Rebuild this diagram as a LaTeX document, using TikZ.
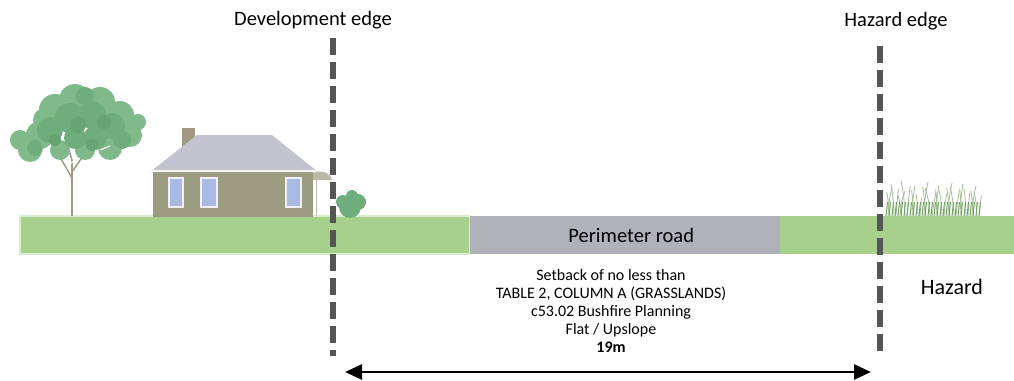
\documentclass[tikz,border=0pt]{standalone}
\usepackage{fontspec}
\setmainfont{Carlito}
\usetikzlibrary{arrows.meta}
\definecolor{lawn}{HTML}{A8D08D}
\definecolor{lawnedge}{HTML}{D6EDCB}
\definecolor{roadgrey}{HTML}{B1B1B9}
\definecolor{wallc}{HTML}{9C9C80}
\definecolor{roofc}{HTML}{C3C3CF}
\definecolor{winc}{HTML}{A9B9E2}
\definecolor{edgec}{HTML}{555555}
\definecolor{leafA}{HTML}{6FAE7C}
\definecolor{leafB}{HTML}{80BA8A}
\definecolor{leafC}{HTML}{66A473}
\definecolor{trunkc}{HTML}{A09A82}
\definecolor{grassA}{HTML}{6FA45E}
\definecolor{grassB}{HTML}{A3BC98}
\tikzset{
  edgeline/.style={draw=edgec, line width=5.5pt, dash pattern=on 17pt off 7pt},
  label/.style={font=\fontsize{20.5}{24}\selectfont, inner sep=0pt},
  note/.style={font=\fontsize{16}{18}\selectfont, align=center, inner sep=0pt},
  dimarrow/.style={draw=black, line width=2.8pt, {Triangle[length=17pt,width=15pt]}-{Triangle[length=17pt,width=15pt]}},
  window/.style={fill=winc, draw=white!80!winc, line width=1.5pt},
  blade/.style={draw=grassB, line width=0.8pt},
}
\begin{document}
\begin{tikzpicture}[x=1pt,y=-1pt]
\useasboundingbox (0,0) rectangle (1014,380);
\fill[white] (0,0) rectangle (1014,380);

% ground strip
\draw[lawnedge, line width=1.5pt, fill=lawn] (20,216) rectangle (470,254);
\node[fill=roadgrey, minimum width=310pt, minimum height=38pt, inner sep=0pt, anchor=north west] (road) at (470,216) {};
\node[label] (roadlabel) at ([xshift=6pt]road.center) {Perimeter road};
\fill[lawn] (780,216) rectangle (1014,254);

% tree
\draw[trunkc, line width=2.5pt] (72,216) -- (72,160);
\draw[trunkc, line width=1.5pt] (72,178) -- (56,150) (72,172) -- (90,146) (72,160) -- (66,140);
\fill[leafB] (40,135) circle (14) (30,150) circle (12) (55,110) circle (16) (75,100) circle (16)
  (100,102) circle (15) (120,115) circle (14) (130,135) circle (12) (110,148) circle (12)
  (85,150) circle (10) (20,140) circle (10) (60,150) circle (10) (45,120) circle (12) (138,122) circle (8);
\fill[leafA] (50,130) circle (13) (70,118) circle (15) (92,115) circle (14) (112,126) circle (13)
  (95,138) circle (12) (75,138) circle (11) (35,148) circle (8) (122,140) circle (9) (85,96) circle (9);
\fill[leafC] (78,125) circle (8) (104,122) circle (7) (55,140) circle (6) (92,145) circle (6);
\draw[white, line width=1.2pt] (43,160) -- (52,156) (100,150) -- (110,146) (68,165) -- (74,161);

% house
\fill[trunkc] (182,128) rectangle (195,147);
\fill[wallc] (153,170) rectangle (313,217);
\fill[roofc] (150,172) -- (197,135) -- (272,135) -- (318,172) -- cycle;
\fill[white!85!roofc] (150,170) -- (318,170) -- (318,172) -- (150,172) -- cycle;
\fill[trunkc!70] (313,173) .. controls (322,170) and (330,172) .. (332,180) -- (313,180) -- cycle;
\draw[trunkc!70, line width=1pt] (316,180) -- (316,216);
\draw[window] (169,178) rectangle (183,207);
\draw[window] (201,178) rectangle (217,207);
\draw[window] (286,178) rectangle (301,207);

% bush
\fill[leafA] (350,207) circle (11) (358,202) circle (8) (343,202) circle (7) (352,196) circle (6);

% grass
\foreach \x/\h/\b in {888/28/4, 894/32/-3, 900/25/5, 905/35/-4, 912/30/3, 918/22/-2, 924/34/4, 930/28/-5,
  936/31/3, 942/26/-3, 948/33/4, 954/29/-4, 960/32/3, 966/27/-2, 972/30/4, 977/24/-3}{
  \draw[blade] (\x,216) .. controls (\x+\b*0.3,216-\h*0.6) .. (\x+\b,216-\h);
  \draw[blade] (\x+2,216) .. controls (\x+2-\b*0.4,216-\h*0.5) .. (\x+2-\b*0.8,216-\h*0.85);
}
\foreach \x in {886,889,...,980}{
  \draw[grassA, line width=1pt] (\x,216) -- (\x+1.5,202);
}

% edge lines
\coordinate (devtop) at (333,38);
\coordinate (devbot) at (333,356);
\coordinate (haztop) at (880,46);
\coordinate (hazbot) at (880,356);
\draw[edgeline] (devtop) -- (devbot);
\draw[edgeline] (haztop) -- (hazbot);

% labels
\node[label] (devlabel) at (313,20) {Development edge};
\node[label] (hazlabel) at (896,21) {Hazard edge};
\node[label, font=\fontsize{22}{24}\selectfont] (hazard) at (952,287) {Hazard};
\node[note] (setback) at (611,311) {Setback of no less than\\TABLE 2, COLUMN A (GRASSLANDS)\\c53.02 Bushfire Planning\\Flat / Upslope\\\textbf{19m}};

% setback dimension
\coordinate (arrowL) at (345,372);
\coordinate (arrowR) at (871,372);
\draw[dimarrow] (arrowL) -- (arrowR);
\end{tikzpicture}
\end{document}
